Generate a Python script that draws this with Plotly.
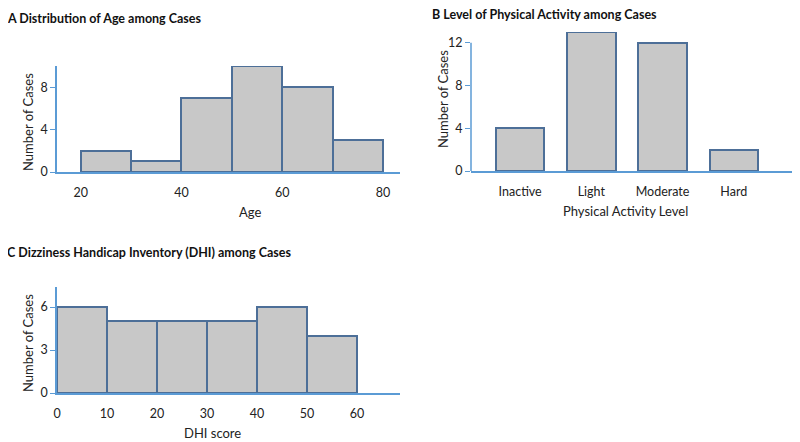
import plotly.graph_objects as go

# Panel A: age histogram (bin starts, width 10)
age_bin_start = [20, 30, 40, 50, 60, 70]
age_counts = [2, 1, 7, 10, 8, 3]

# Panel B: physical activity level
activity_levels = ["Inactive", "Light", "Moderate", "Hard"]
activity_counts = [4, 13, 12, 2]

# Panel C: DHI score histogram (bin starts, width 10)
dhi_bin_start = [0, 10, 20, 30, 40, 50]
dhi_counts = [6, 5, 5, 5, 6, 4]

bin_width = 10
fill = "#c8c8c8"
edge = "#4d6f98"
axis_col = "#5b9bd5"
font_fam = "Lato, 'Open Sans', sans-serif"
text_col = "#222222"

W, H = 800, 442
OFF = 8  # page body margin

def px(v):
    return (v - OFF) / W

def py(v):
    return 1 - (v - OFF) / H

def xd(a, b):
    return [px(a), px(b)]

def yd(top, bottom):
    return [py(bottom), py(top)]

fig = go.Figure()

bar_style = dict(marker=dict(color=fill, line=dict(color=edge, width=2)), showlegend=False, hoverinfo="x+y")

fig.add_trace(go.Bar(x=[s + bin_width / 2 for s in age_bin_start], y=age_counts, width=bin_width,
                     xaxis="x", yaxis="y", **bar_style))
fig.add_trace(go.Bar(x=activity_levels, y=activity_counts, width=0.68,
                     xaxis="x2", yaxis="y2", **bar_style))
fig.add_trace(go.Bar(x=[s + bin_width / 2 for s in dhi_bin_start], y=dhi_counts, width=bin_width,
                     xaxis="x3", yaxis="y3", **bar_style))

tick_font = dict(family=font_fam, size=12.5, color=text_col)
label_font = dict(family=font_fam, size=13, color=text_col)

common_x = dict(showline=True, linecolor=axis_col, linewidth=1.5, ticks="", showgrid=False,
                zeroline=False, tickfont=tick_font, automargin=False, ticklabelstandoff=8)
common_y = dict(showline=True, linecolor=axis_col, linewidth=1.5, ticks="outside", ticklen=5,
                tickcolor=axis_col, showgrid=False, zeroline=False, tickfont=tick_font,
                automargin=False)

fig.update_layout(
    width=W, height=H,
    margin=dict(l=0, r=0, t=0, b=0),
    paper_bgcolor="white", plot_bgcolor="white",
    font=dict(family=font_fam, color=text_col),
    bargap=0,
    xaxis=dict(domain=xd(57, 400), range=[15.3, 83.4], tickvals=[20, 40, 60, 80], anchor="y", **common_x),
    yaxis=dict(domain=yd(66, 172), range=[0, 10], tickvals=[0, 4, 8], anchor="x", **common_y),
    xaxis2=dict(domain=xd(471, 795), range=[-0.69, 3.86], anchor="y2", **common_x),
    yaxis2=dict(domain=yd(32, 171), range=[0, 13], tickvals=[0, 4, 8, 12], anchor="x2",
                **{**common_y, "showline": False}),
    xaxis3=dict(domain=xd(57, 400), range=[0, 68.6], tickvals=[0, 10, 20, 30, 40, 50, 60],
                anchor="y3", **common_x),
    yaxis3=dict(domain=yd(287, 393), range=[0, 7.4], tickvals=[0, 3, 6], anchor="x3", **common_y),
)

# panel B's axis line stops at the top tick
fig.add_shape(type="line", xref="x2 domain", yref="y2", x0=0, x1=0, y0=0, y1=12,
              line=dict(color=axis_col, width=1.5))

# panel titles
titles = [
    ("A Distribution of Age among Cases", 5, 18),
    ("B Level of Physical Activity among Cases", 430, 15),
    ("C Dizziness Handicap Inventory (DHI) among Cases", 5, 252),
]
for txt, tx, ty in titles:
    fig.add_annotation(text="<b>" + txt + "</b>", xref="paper", yref="paper",
                       x=px(tx), y=py(ty), xanchor="left", yanchor="middle",
                       showarrow=False, font=dict(family=font_fam, size=12.5, color="#111111"))

# axis titles
x_titles = [("Age", 250, 212), ("Physical Activity Level", 625, 211), ("DHI score", 213, 433)]
for txt, tx, ty in x_titles:
    fig.add_annotation(text=txt, xref="paper", yref="paper", x=px(tx), y=py(ty),
                       xanchor="center", yanchor="middle", showarrow=False, font=label_font)

y_titles = [(28, 122), (443, 99), (28, 343)]
for tx, ty in y_titles:
    fig.add_annotation(text="Number of Cases", xref="paper", yref="paper", x=px(tx), y=py(ty),
                       xanchor="center", yanchor="middle", textangle=-90, showarrow=False,
                       font=label_font)

fig.write_html("out.html")
